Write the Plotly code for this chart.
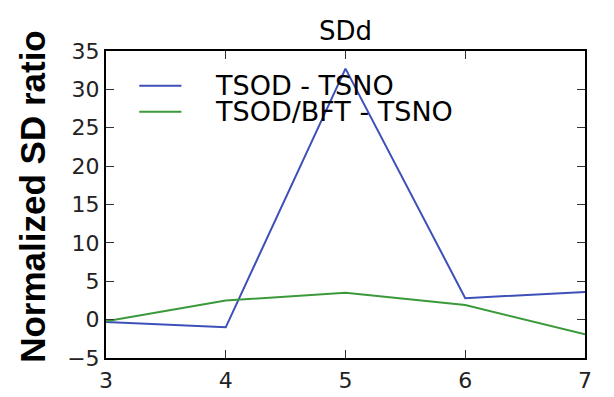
import plotly.graph_objects as go

# ---- data ----
x_vals = [3, 4, 5, 6, 7]
tsod_tsno = [-0.3, -1.0, 32.7, 2.8, 3.6]
tsod_bft_tsno = [-0.2, 2.5, 3.5, 1.9, -1.9]
series_names = ["TSOD - TSNO", "TSOD/BFT - TSNO"]
series_colors = ["#3d4fb8", "#3a9a3a"]
x_ticks = [3, 4, 5, 6, 7]
y_ticks = [-5, 0, 5, 10, 15, 20, 25, 30, 35]
neighbor_ticks = [15, 10, 5, 0, -5]

Y_RANGE = [-5, 35]
TICK_FONT = dict(family="DejaVu Sans", size=22, color="#222222")

fig = go.Figure()
for name, ys, col in zip(series_names, [tsod_tsno, tsod_bft_tsno], series_colors):
    fig.add_trace(go.Scatter(x=x_vals, y=ys, mode="lines", name=name,
                             line=dict(color=col, width=2), showlegend=False))

axis_common = dict(showline=True, linecolor="black", linewidth=2, mirror="allticks",
                   ticks="inside", ticklen=8, tickwidth=1, tickcolor="#333333",
                   showgrid=False, zeroline=False, tickfont=TICK_FONT)

fig.update_xaxes(range=[3, 7], tickvals=x_ticks, ticklabelstandoff=2, **axis_common)
fig.update_yaxes(range=Y_RANGE, tickvals=y_ticks, ticklabelstandoff=0, **axis_common)

shapes = []
annotations = []
# manual legend
leg_y = [0.8866, 0.8024]
for name, col, ly in zip(series_names, series_colors, leg_y):
    shapes.append(dict(type="line", xref="paper", yref="paper", x0=0.0694, x1=0.1575,
                       y0=ly, y1=ly, line=dict(color=col, width=2)))
    annotations.append(dict(xref="paper", yref="paper", x=0.2225, y=ly, xanchor="left",
                            yanchor="middle", text=name, showarrow=False,
                            font=dict(family="DejaVu Sans", size=27, color="black")))
# neighbor panel tick fragments at right edge (paper refs so they are not clipped)
for v in neighbor_ticks:
    py = (v - Y_RANGE[0]) / (Y_RANGE[1] - Y_RANGE[0])
    shapes.append(dict(type="line", xref="paper", yref="paper", x0=1.052, x1=1.07,
                       y0=py, y1=py, line=dict(color="#333333", width=1.5)))

# y-axis title
annotations.append(dict(xref="paper", yref="paper", x=0, xshift=-73, y=0.525,
                        xanchor="center", yanchor="middle", textangle=-90,
                        text="<b>Normalized SD ratio</b>", showarrow=False,
                        font=dict(family="Liberation Sans", size=35, color="black")))
# title
annotations.append(dict(xref="paper", yref="paper", x=0.5, y=1, yanchor="bottom",
                        yshift=3, text="SDd", showarrow=False,
                        font=dict(family="DejaVu Sans", size=26, color="black")))

fig.update_layout(width=614, height=397, margin=dict(l=98, r=37, t=43, b=25, pad=0),
                  plot_bgcolor="white", paper_bgcolor="white",
                  shapes=shapes, annotations=annotations, showlegend=False)

fig.write_html("out.html")
